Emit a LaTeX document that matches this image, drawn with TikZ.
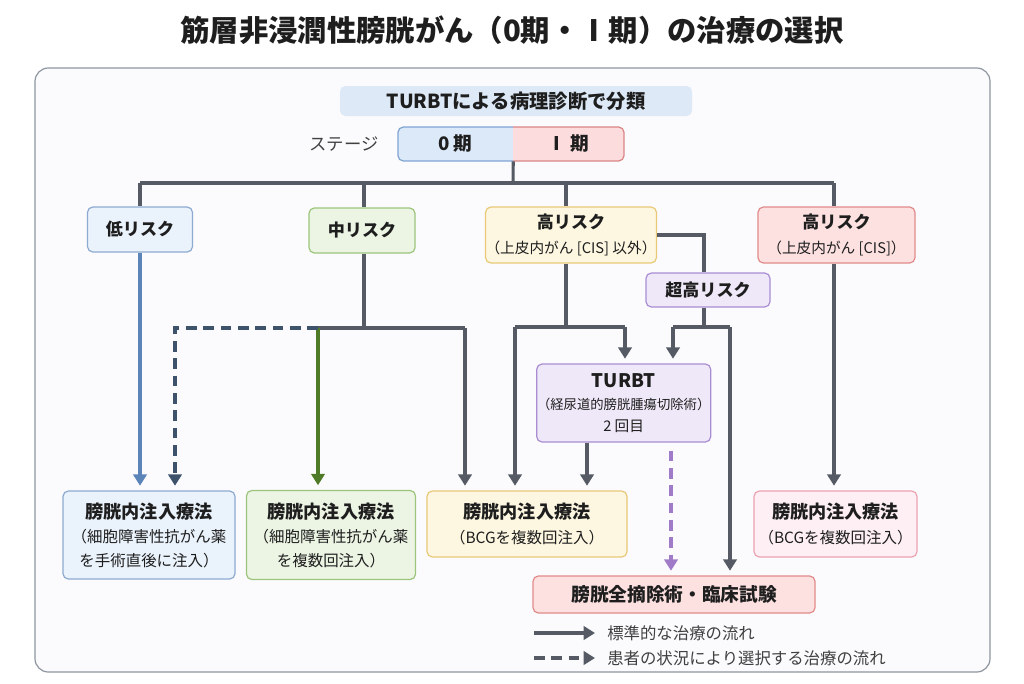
\documentclass[tikz,border=0pt]{standalone}
\usepackage{fontspec}
\setmainfont{Noto Sans CJK JP}
\usetikzlibrary{arrows.meta}
\definecolor{cgray}{HTML}{555A64}
\definecolor{txt}{HTML}{1E1E1E}
\definecolor{framec}{HTML}{8E96A0}
\definecolor{framef}{HTML}{FBFBFD}
\definecolor{topf}{HTML}{DDE9F7}
\definecolor{bluef}{HTML}{EAF2FB}\definecolor{blued}{HTML}{8DAAD0}
\definecolor{greenf}{HTML}{ECF5E4}\definecolor{greend}{HTML}{9CC47C}
\definecolor{yelf}{HTML}{FDF6E0}\definecolor{yeld}{HTML}{E9C878}
\definecolor{redf}{HTML}{FDE1E1}\definecolor{redd}{HTML}{E08A8A}
\definecolor{pinkf}{HTML}{FDEFF3}\definecolor{pinkd}{HTML}{EBA3B3}
\definecolor{purf}{HTML}{EFE8F8}\definecolor{purd}{HTML}{A98DD2}
\definecolor{stbf}{HTML}{DCE9F8}\definecolor{stbd}{HTML}{7FA3D3}
\definecolor{strf}{HTML}{FCDCDC}\definecolor{strd}{HTML}{D98585}
\definecolor{arrblue}{HTML}{5B84B8}
\definecolor{arrgreen}{HTML}{4F7A28}
\definecolor{dashnavy}{HTML}{3E536B}
\definecolor{dashpur}{HTML}{A07CC8}
\begin{document}
\begin{tikzpicture}[x=0.75pt,y=-0.75pt,
  box/.style={draw, rounded corners=4pt, line width=0.9pt, align=center, inner sep=0pt, text=txt},
  mainf/.style={font=\bfseries\fontsize{12.8pt}{18pt}\selectfont},
  conn/.style={draw=cgray, line width=2.3pt},
  tip/.style={-{Triangle[width=10pt,length=8.5pt]}},
  arr/.style={conn, tip, shorten >=3.5pt},
  dsh/.style={line width=2.5pt, dash pattern=on 8pt off 5pt},
  legtext/.style={anchor=west, inner sep=0pt, text=txt!85, font=\fontsize{12.3pt}{14pt}\selectfont}
]
\useasboundingbox[fill=white] (0,0) rectangle (1024,683);
% title
\node[text=txt, font=\bfseries\fontsize{22pt}{26pt}\selectfont] (title) at (512,30) {筋層非浸潤性膀胱がん（0期・Ⅰ期）の治療の選択};
% frame
\draw[draw=framec, fill=framef, line width=0.9pt, rounded corners=10pt] (35,68) rectangle (990,672);
% top box
\node[box, draw=none, fill=topf, minimum width=264pt, minimum height=22.5pt, font=\bfseries\fontsize{14.5pt}{16pt}\selectfont] (top) at (516,101) {TURBTによる病理診断で分類};
% stage
\node[text=txt!85, font=\fontsize{13pt}{15pt}\selectfont] (stlab) at (344,144) {ステージ};
\begin{scope}
  \clip[rounded corners=4pt] (398,127) rectangle (624,161);
  \fill[stbf] (398,127) rectangle (513,161);
  \fill[strf] (513,127) rectangle (624,161);
\end{scope}
\begin{scope}
  \clip (390,120) rectangle (513,170);
  \draw[stbd, line width=0.9pt, rounded corners=4pt] (398,127) rectangle (624,161);
\end{scope}
\begin{scope}
  \clip (513,120) rectangle (630,170);
  \draw[strd, line width=0.9pt, rounded corners=4pt] (398,127) rectangle (624,161);
\end{scope}
\node[text=txt, font=\bfseries\fontsize{14pt}{16pt}\selectfont, minimum width=86.25pt, minimum height=25.5pt, inner sep=0pt] (s0) at (455.5,144) {0 期};
\node[text=txt, font=\bfseries\fontsize{14pt}{16pt}\selectfont, minimum width=83.25pt, minimum height=25.5pt, inner sep=0pt] (s1) at (568.5,144) {Ⅰ 期};
% risk boxes
\node[box, draw=blued, fill=bluef, minimum width=78.75pt, minimum height=33.75pt, mainf] (low) at (140,229.5) {低リスク};
\node[box, draw=greend, fill=greenf, minimum width=79.5pt, minimum height=33.75pt, mainf] (mid) at (362,230.5) {中リスク};
\node[box, draw=yeld, fill=yelf, minimum width=126pt, minimum height=42pt, font=\fontsize{11pt}{18.5pt}\selectfont] (high) at (571,235) {{\bfseries\fontsize{12.8pt}{18pt}\selectfont 高リスク}\\（上皮内がん [CIS] 以外）};
\node[box, draw=redd, fill=redf, minimum width=117.75pt, minimum height=42pt, font=\fontsize{11pt}{18.5pt}\selectfont] (hcis) at (836.5,235) {{\bfseries\fontsize{12.8pt}{18pt}\selectfont 高リスク}\\（上皮内がん [CIS]）};
\node[box, draw=purd, fill=purf, minimum width=93pt, minimum height=25.5pt, mainf] (vh) at (708,290) {超高リスク};
% TURBT
\node[box, draw=purd, fill=purf, minimum width=130.5pt, minimum height=58.5pt, font=\fontsize{10pt}{16.5pt}\selectfont] (turbt) at (623.7,403) {{\bfseries\fontsize{14pt}{16.5pt}\selectfont TURBT}\\（経尿道的膀胱腫瘍切除術）\\{\fontsize{11pt}{16.5pt}\selectfont 2 回目}};
% treatments
\node[box, draw=blued, fill=bluef, minimum width=129pt, minimum height=66pt, font=\fontsize{11.6pt}{18pt}\selectfont] (blue) at (149,535) {{\bfseries\fontsize{13.6pt}{18pt}\selectfont 膀胱内注入療法}\\（細胞障害性抗がん薬\\を手術直後に注入）};
\node[box, draw=greend, fill=greenf, minimum width=126.75pt, minimum height=66.75pt, font=\fontsize{11.6pt}{18pt}\selectfont] (green) at (331,535) {{\bfseries\fontsize{13.6pt}{18pt}\selectfont 膀胱内注入療法}\\（細胞障害性抗がん薬\\を複数回注入）};
\node[box, draw=yeld, fill=yelf, minimum width=150pt, minimum height=49.5pt, font=\fontsize{11.6pt}{19pt}\selectfont] (ybcg) at (527,524) {{\bfseries\fontsize{13.6pt}{18pt}\selectfont 膀胱内注入療法}\\（BCGを複数回注入）};
\node[box, draw=pinkd, fill=pinkf, minimum width=122.25pt, minimum height=49.5pt, font=\fontsize{11.6pt}{19pt}\selectfont] (pbcg) at (835.5,524) {{\bfseries\fontsize{13.6pt}{18pt}\selectfont 膀胱内注入療法}\\（BCGを複数回注入）};
\node[box, draw=redd, fill=redf, minimum width=211.5pt, minimum height=27.75pt, font=\bfseries\fontsize{14pt}{18pt}\selectfont] (cyst) at (674,594.5) {膀胱全摘除術・臨床試験};
% coordinates
\coordinate (bus) at (513,183);
\coordinate (xlow) at (140,0);
\coordinate (xmid) at (364,0);
\coordinate (xhigh) at (566,0);
\coordinate (xcis) at (834,0);
\coordinate (xv) at (704,0);
\coordinate (xt) at (587,0);
\coordinate (xp) at (671,0);
\coordinate (mj) at (364,328);
\coordinate (ml) at (318,328);
\coordinate (mr) at (465,328);
\coordinate (dl) at (175,328);
\coordinate (hj) at (566,327);
\coordinate (hl) at (515,327);
\coordinate (hr) at (625,327);
\coordinate (vj) at (704,327);
\coordinate (vl) at (673,327);
\coordinate (vr) at (730,327);
% connectors
\draw[conn] (s0.south east) -- (bus);
\draw[conn] (xlow |- bus) -- (xcis |- bus);
\draw[conn] (xlow |- bus) -- (xlow |- low.north);
\draw[conn] (xmid |- bus) -- (xmid |- mid.north);
\draw[conn] (xhigh |- bus) -- (xhigh |- high.north);
\draw[conn] (xcis |- bus) -- (xcis |- hcis.north);
% low
\draw[arr, draw=arrblue] (xlow |- low.south) -- (xlow |- blue.north);
% mid
\draw[conn] (xmid |- mid.south) -- (mj);
\draw[conn] (ml) -- (mr);
\draw[arr, draw=arrgreen] (ml) -- (ml |- green.north);
\draw[arr] (mr) -- (mr |- ybcg.north);
\draw[dashnavy, dsh, tip, shorten >=3.5pt] (ml) -- (dl) -- (dl |- blue.north);
% high
\draw[conn] (xhigh |- high.south) -- (hj);
\draw[conn] (hl) -- (hr);
\draw[arr] (hl) -- (hl |- ybcg.north);
\draw[arr] (hr) -- (hr |- turbt.north);
\draw[conn] (high.east) -- (xv |- high.east) -- (xv |- vh.north);
% very high
\draw[conn] (xv |- vh.south) -- (vj);
\draw[conn] (vl) -- (vr);
\draw[arr] (vl) -- (vl |- turbt.north);
\draw[arr] (vr) -- (vr |- cyst.north);
% turbt
\draw[arr] (xt |- turbt.south) -- (xt |- ybcg.north);
\draw[dashpur, dsh, tip, shorten >=3.5pt, shorten <=6pt] (xp |- turbt.south) -- (xp |- cyst.north);
% cis
\draw[arr] (xcis |- hcis.south) -- (xcis |- pbcg.north);
% legend
\node[legtext] (lg1) at (607,633) {標準的な治療の流れ};
\node[legtext] (lg2) at (607,658) {患者の状況により選択する治療の流れ};
\coordinate (la1) at (534,633);
\coordinate (la2) at (534,658);
\draw[conn, tip, shorten >=9pt] (la1) -- (lg1.west);
\draw[draw=cgray, dsh, tip, shorten >=9pt] (la2) -- (lg2.west);
\end{tikzpicture}
\end{document}
